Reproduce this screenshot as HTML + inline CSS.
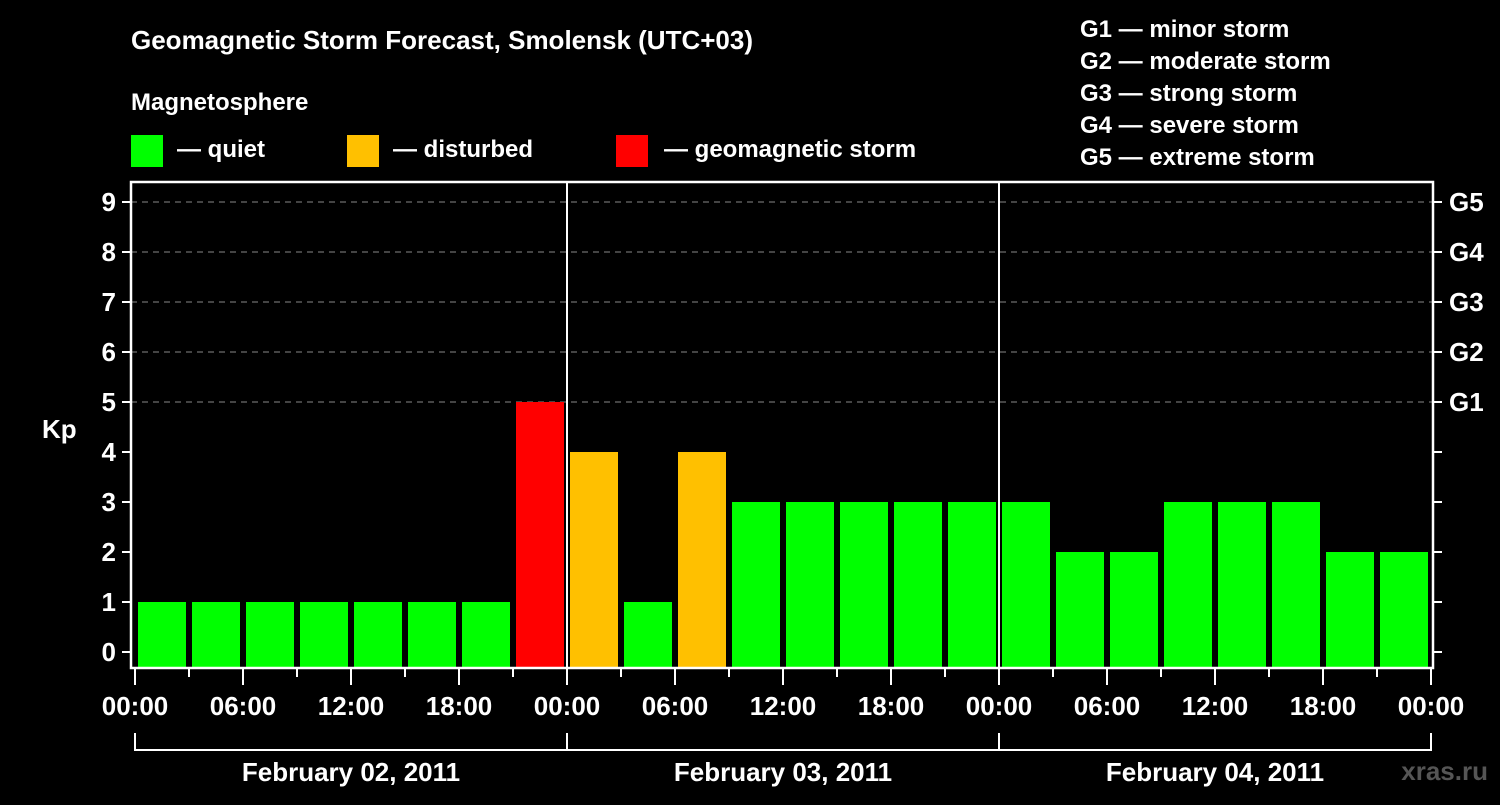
<!DOCTYPE html>
<html><head><meta charset="utf-8"><style>
body{margin:0;background:#000;width:1500px;height:800px;overflow:hidden}
svg text{font-family:"Liberation Sans",sans-serif;font-weight:bold;fill:#fff}
</style></head><body>
<svg id="c" width="1500" height="800">
<text x="131" y="49" font-size="26">Geomagnetic Storm Forecast, Smolensk (UTC+03)</text>
<text x="131" y="110" font-size="24">Magnetosphere</text>
<g>
<rect x="131" y="135" width="32" height="32" fill="#00ff00"/>
<text x="177" y="157" font-size="24">— quiet</text>
<rect x="347" y="135" width="32" height="32" fill="#ffc000"/>
<text x="393" y="157" font-size="24">— disturbed</text>
<rect x="616" y="135" width="32" height="32" fill="#ff0000"/>
<text x="664" y="157" font-size="24">— geomagnetic storm</text>
</g>
<g font-size="24">
<text x="1080" y="37">G1 — minor storm</text>
<text x="1080" y="69">G2 — moderate storm</text>
<text x="1080" y="101">G3 — strong storm</text>
<text x="1080" y="133">G4 — severe storm</text>
<text x="1080" y="165">G5 — extreme storm</text>
</g>
<text x="42" y="438" font-size="26">Kp</text>
<text x="1488" y="780" font-size="26" fill="#555" style="fill:#555" text-anchor="end">xras.ru</text>
<g id="g"></g>
</svg>
<script>
const values=[1,1,1,1,1,1,1,5, 4,1,4,3,3,3,3,3, 3,2,2,3,3,3,2,2];
const levels=["quiet","quiet","quiet","quiet","quiet","quiet","quiet","storm","disturbed","quiet","disturbed","quiet","quiet","quiet","quiet","quiet","quiet","quiet","quiet","quiet","quiet","quiet","quiet","quiet"];
const dayLabels=["February 02, 2011","February 03, 2011","February 04, 2011"];
const hourLabels=["00:00","06:00","12:00","18:00"];
const gLabels=["G1","G2","G3","G4","G5"];
const colors={quiet:"#00ff00",disturbed:"#ffc000",storm:"#ff0000"};
const NS="http://www.w3.org/2000/svg",g=document.getElementById("g");
const xH=h=>135+18*h, yV=v=>652-50*v;
function mk(t,a,txt){const e=document.createElementNS(NS,t);for(const k in a)e.setAttribute(k,a[k]);if(txt!==undefined)e.textContent=txt;g.appendChild(e);return e;}
for(let v=0;v<=9;v++){
 if(v>=5){const l=mk("line",{x1:131,x2:1433,y1:yV(v),y2:yV(v),stroke:"#888","stroke-dasharray":"6,5","stroke-width":1});
 
 }
 mk("line",{x1:122,x2:131,y1:yV(v),y2:yV(v),stroke:"#fff","stroke-width":2});
 mk("line",{x1:1433,x2:1442,y1:yV(v),y2:yV(v),stroke:"#fff","stroke-width":2});
 const t=mk("text",{x:116,y:yV(v)+9,"font-size":26,"text-anchor":"end"},String(v));
 
 
}
gLabels.forEach((s,i)=>{const t=mk("text",{x:1449,y:yV(5+i)+9,"font-size":26},s);
 
 });
values.forEach((v,i)=>{const r=mk("rect",{x:xH(3*i)+3,y:yV(v),width:48,height:668-yV(v),fill:colors[levels[i]]});
 
 });
mk("rect",{x:131,y:182,width:1302,height:486,fill:"none",stroke:"#fff","stroke-width":2.5});
[1,2].forEach(d=>mk("line",{x1:xH(24*d),x2:xH(24*d),y1:182,y2:668,stroke:"#fff","stroke-width":2}));
for(let k=0;k<=24;k++){const x=xH(3*k);mk("line",{x1:x,x2:x,y1:668,y2:k%2==0?685:677,stroke:"#fff","stroke-width":2});}
for(let k=0;k<=12;k++){const t=mk("text",{x:xH(6*k),y:715,"font-size":26,"text-anchor":"middle"},hourLabels[k%4]);
 
 }
dayLabels.forEach((s,d)=>{
 mk("polyline",{points:`${xH(24*d)},733 ${xH(24*d)},750 ${xH(24*d+24)},750 ${xH(24*d+24)},733`,fill:"none",stroke:"#fff","stroke-width":2});
 const t=mk("text",{x:xH(24*d+12),y:781,"font-size":26,"text-anchor":"middle"},s);
 
 
});
</script>
</body></html>
